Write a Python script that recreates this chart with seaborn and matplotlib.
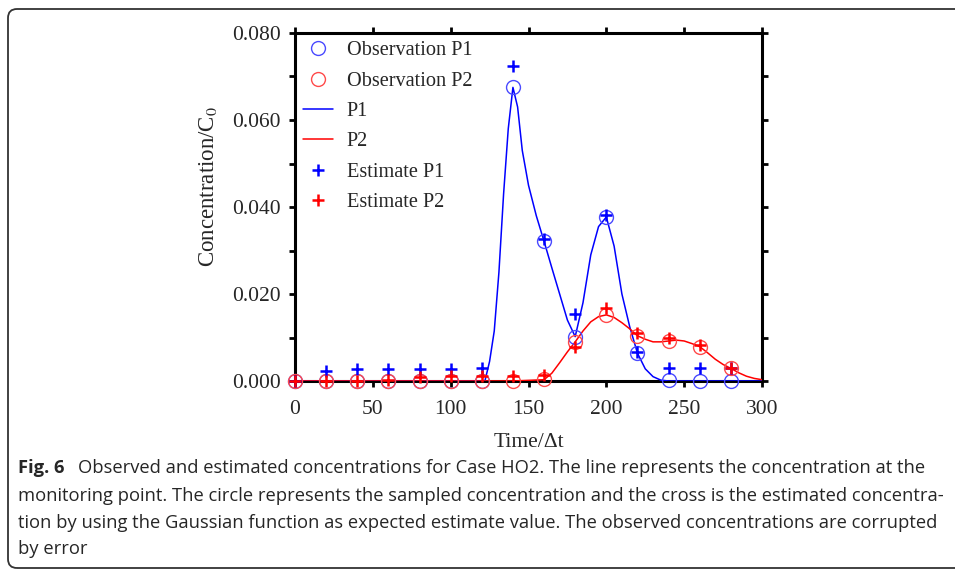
import numpy as np
import pandas as pd
import matplotlib
matplotlib.use("Agg")
import matplotlib.pyplot as plt
import seaborn as sns
from matplotlib.patches import FancyBboxPatch
from matplotlib.transforms import IdentityTransform
from matplotlib.ticker import MultipleLocator, FormatStrFormatter

# ---- data ----
t_obs = [0, 20, 40, 60, 80, 100, 120, 140, 160, 180, 200, 220, 240, 260, 280]
obs_p1 = [0, 0, 0, 0, 0, 0, 0, 0.0675, 0.0321, 0.0102, 0.0377, 0.0064, 0.0003, 0, 0]
obs_p2 = [0, 0, 0, 0, 0, 0, 0, 0, 0.0004, 0.0090, 0.0152, 0.0103, 0.0092, 0.0079, 0.0029]
est_p1 = [0, 0.0024, 0.0027, 0.0027, 0.0027, 0.0027, 0.0031, 0.0724, 0.0326, 0.0154,
          0.0382, 0.0066, 0.0029, 0.0029, 0.0029]
est_p2 = [0, 0, 0, 0.0003, 0.0009, 0.0011, 0.0011, 0.0011, 0.0013, 0.0078, 0.0167,
          0.0110, 0.0100, 0.0083, 0.0029]

t_p1 = [0, 20, 40, 60, 80, 100, 120, 122, 125, 128, 131, 134, 137, 140, 143, 146, 150,
        155, 160, 165, 170, 175, 180, 185, 190, 195, 200, 205, 210, 215, 220, 225, 230,
        235, 240, 260, 280, 300]
line_p1 = [0, 0, 0, 0, 0, 0, 0, 0, 0.0045, 0.0115, 0.0250, 0.0430, 0.0580, 0.0675,
           0.0630, 0.0530, 0.0450, 0.0380, 0.0321, 0.0260, 0.0200, 0.0140, 0.0102,
           0.0180, 0.0290, 0.0355, 0.0377, 0.0310, 0.0200, 0.0125, 0.0064, 0.0028,
           0.0010, 0.0002, 0, 0, 0, 0]

t_p2 = [0, 20, 40, 60, 80, 100, 120, 140, 160, 165, 170, 175, 180, 185, 190, 195, 200,
        205, 210, 215, 220, 225, 230, 235, 240, 245, 250, 255, 260, 265, 270, 275, 280,
        285, 290, 295, 300]
line_p2 = [0, 0, 0, 0, 0, 0, 0, 0, 0.0003, 0.0018, 0.0042, 0.0067, 0.0090, 0.0115,
           0.0136, 0.0148, 0.0152, 0.0146, 0.0134, 0.0120, 0.0104, 0.0096, 0.0090,
           0.0090, 0.0092, 0.0094, 0.0092, 0.0086, 0.0079, 0.0065, 0.0050, 0.0038,
           0.0029, 0.0019, 0.0011, 0.0006, 0.0003]

x_ticks = [0, 50, 100, 150, 200, 250, 300]
y_ticks = [0.000, 0.020, 0.040, 0.060, 0.080]

caption_bold = "Fig. 6"
caption_lines = [
    "Observed and estimated concentrations for Case HO2. The line represents the concentration at the",
    "monitoring point. The circle represents the sampled concentration and the cross is the estimated concentra-",
    "tion by using the Gaussian function as expected estimate value. The observed concentrations are corrupted",
    "by error",
]

# ---- style ----
sns.set_style("white")
plt.rcParams["font.family"] = ["Liberation Serif", "DejaVu Serif"]
plt.rcParams["mathtext.fontset"] = "stix"

W, H = 955, 570
fig = plt.figure(figsize=(W / 100, H / 100), dpi=100)
fig.patch.set_facecolor("white")
ax = fig.add_axes([295 / W, 1 - 381 / H, (762 - 295) / W, (381 - 33) / H])

BLUE = "#0000ff"
RED = "#ff0000"
BLUE_C = "#4a4aff"
RED_C = "#ff4a4a"

df_p1 = pd.DataFrame({"t": t_p1, "c": line_p1})
df_p2 = pd.DataFrame({"t": t_p2, "c": line_p2})
df_obs = pd.DataFrame({"t": t_obs, "p1": obs_p1, "p2": obs_p2, "e1": est_p1, "e2": est_p2})

sns.lineplot(data=df_obs, x="t", y="p1", ax=ax, linestyle="", marker="o", markersize=10,
             markerfacecolor="none", markeredgecolor=BLUE_C, markeredgewidth=1.0,
             label="Observation P1", clip_on=False, zorder=4)
sns.lineplot(data=df_obs, x="t", y="p2", ax=ax, linestyle="", marker="o", markersize=10,
             markerfacecolor="none", markeredgecolor=RED_C, markeredgewidth=1.0,
             label="Observation P2", clip_on=False, zorder=4)
sns.lineplot(data=df_p1, x="t", y="c", ax=ax, color=BLUE, linewidth=1.1, label="P1",
             zorder=3, estimator=None)
sns.lineplot(data=df_p2, x="t", y="c", ax=ax, color=RED, linewidth=1.1, label="P2",
             zorder=3, estimator=None)
sns.lineplot(data=df_obs, x="t", y="e1", ax=ax, linestyle="", marker="+", markersize=8,
             markeredgewidth=1.8, color=BLUE, markeredgecolor=BLUE,
             label="Estimate P1", clip_on=False, zorder=5)
sns.lineplot(data=df_obs, x="t", y="e2", ax=ax, linestyle="", marker="+", markersize=8,
             markeredgewidth=1.8, color=RED, markeredgecolor=RED,
             label="Estimate P2", clip_on=False, zorder=5)

ax.set_xlim(0, 300)
ax.set_ylim(0, 0.08)
ax.set_xticks(x_ticks)
ax.set_yticks(y_ticks)
ax.yaxis.set_major_formatter(FormatStrFormatter("%.3f"))
ax.yaxis.set_minor_locator(MultipleLocator(0.01))
for s in ax.spines.values():
    s.set_visible(True)
    s.set_color("black")
    s.set_linewidth(2.2)
ax.tick_params(which="both", direction="out", top=True, right=True, left=True, bottom=True,
               labeltop=False, labelright=False, width=2, color="black")
ax.tick_params(which="major", length=4, labelsize=15.5)
ax.tick_params(axis="x", which="major", pad=10)
ax.tick_params(axis="y", which="major", pad=6)
ax.tick_params(which="minor", length=4)

ax.set_xlabel("Time/\u0394t", fontsize=15.5, labelpad=10)
ax.set_ylabel("Concentration/C$_0$", fontsize=16.5)
ax.yaxis.set_label_coords(-0.162, 0.56)

leg = ax.legend(loc="upper left", frameon=False, fontsize=14.6, handlelength=1.45,
                handletextpad=0.7, labelspacing=0.55, borderaxespad=0.0,
                bbox_to_anchor=(0.0, 1.0))

# ---- outer frame ----
frame = FancyBboxPatch((8, 2), 1000, 559, boxstyle="round,pad=0,rounding_size=9",
                       transform=IdentityTransform(), facecolor="none",
                       edgecolor="#333333", linewidth=1.3)
fig.patches.append(frame)

# ---- caption ----
cap_font = ["Open Sans", "DejaVu Sans"]
cap_size = 13.25
ys = [468, 496, 523, 549]
fig.text(18 / W, 1 - ys[0] / H, caption_bold, fontsize=cap_size, fontweight="bold",
         family=cap_font, va="center", ha="left")
fig.text(78 / W, 1 - ys[0] / H, caption_lines[0], fontsize=cap_size,
         family=cap_font, va="center", ha="left")
for y, line in zip(ys[1:], caption_lines[1:]):
    fig.text(18 / W, 1 - y / H, line, fontsize=cap_size, family=cap_font,
             va="center", ha="left")

fig.savefig("out.png", dpi=100, facecolor="white")
